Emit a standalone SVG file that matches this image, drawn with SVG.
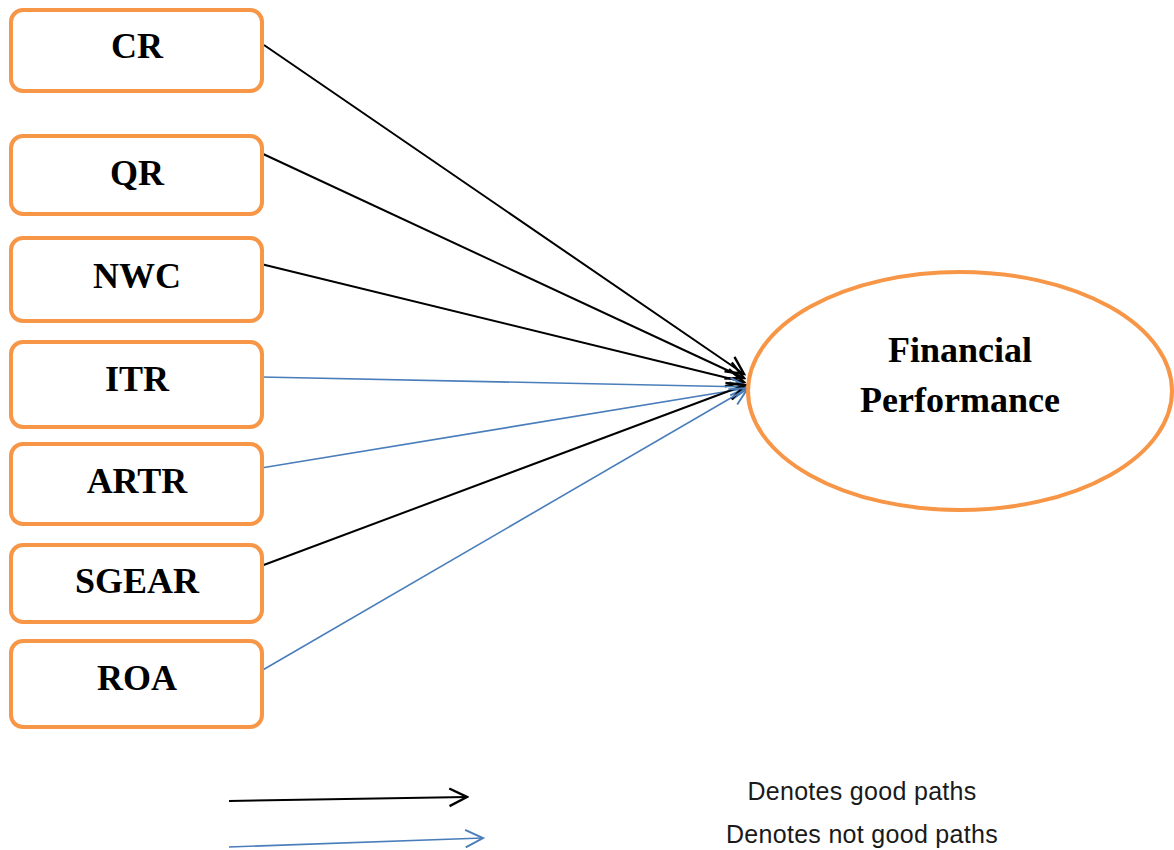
<svg xmlns="http://www.w3.org/2000/svg" width="1174" height="850" viewBox="0 0 1174 850">
<style>
.box{fill:#fff;stroke:#F79646;stroke-width:4}
.lbl{font-family:"Liberation Serif",serif;font-weight:bold;font-size:36px;text-anchor:middle;fill:#000}
.good{stroke:#000;stroke-width:2;fill:none}
.bad{stroke:#4A7EBB;stroke-width:1.6;fill:none}
.leg{font-family:"Liberation Sans",sans-serif;font-size:25px;letter-spacing:0.3px;text-anchor:middle;fill:#1a1a1a}
</style>
<defs>
<marker id="ah" viewBox="0 0 20 20" refX="18" refY="10" markerWidth="22" markerHeight="22" markerUnits="userSpaceOnUse" orient="auto">
<path d="M2,2 L18,10 L2,18" fill="none" stroke="#000" stroke-width="2.2"/>
</marker>
<marker id="ahb" viewBox="0 0 20 20" refX="18" refY="10" markerWidth="22" markerHeight="22" markerUnits="userSpaceOnUse" orient="auto">
<path d="M2,2 L18,10 L2,18" fill="none" stroke="#4A7EBB" stroke-width="1.8"/>
</marker>
</defs>
<rect width="1174" height="850" fill="#fff"/>
<g id="connectors">
<line class="good" x1="264" y1="45" x2="744" y2="374" marker-end="url(#ah)"/>
<line class="good" x1="261" y1="153" x2="744" y2="378" marker-end="url(#ah)"/>
<line class="good" x1="261" y1="264" x2="744" y2="382" marker-end="url(#ah)"/>
<line class="bad" x1="261" y1="377" x2="748" y2="387" marker-end="url(#ahb)"/>
<line class="bad" x1="261" y1="468" x2="748" y2="388" marker-end="url(#ahb)"/>
<line class="good" x1="261" y1="566" x2="745" y2="385" marker-end="url(#ah)"/>
<line class="bad" x1="261" y1="671" x2="748" y2="388" marker-end="url(#ahb)"/>
</g>
<g id="node-CR"><rect class="box" x="11" y="10" width="251" height="81" rx="12"/><text class="lbl" x="137" y="58">CR</text></g>
<g id="node-QR"><rect class="box" x="11" y="136" width="251" height="78" rx="12"/><text class="lbl" x="137" y="185">QR</text></g>
<g id="node-NWC"><rect class="box" x="11" y="238" width="251" height="83" rx="12"/><text class="lbl" x="137" y="288">NWC</text></g>
<g id="node-ITR"><rect class="box" x="11" y="342" width="251" height="85" rx="12"/><text class="lbl" x="137" y="391">ITR</text></g>
<g id="node-ARTR"><rect class="box" x="11" y="444" width="251" height="80" rx="12"/><text class="lbl" x="137" y="493">ARTR</text></g>
<g id="node-SGEAR"><rect class="box" x="11" y="545" width="251" height="77" rx="12"/><text class="lbl" x="137" y="593">SGEAR</text></g>
<g id="node-ROA"><rect class="box" x="11" y="641" width="251" height="86" rx="12"/><text class="lbl" x="137" y="690">ROA</text></g>
<g id="node-FP"><ellipse class="box" cx="960" cy="391" rx="212" ry="119"/><text class="lbl" x="960" y="362">Financial</text><text class="lbl" x="960" y="412">Performance</text></g>
<g id="legend">
<line class="good" x1="229" y1="801" x2="467" y2="797" marker-end="url(#ah)"/>
<line class="bad" x1="229" y1="847" x2="483" y2="838" marker-end="url(#ahb)"/>
<text class="leg" x="862" y="800">Denotes good paths</text>
<text class="leg" x="862" y="843">Denotes not good paths</text>
</g>
</svg>
